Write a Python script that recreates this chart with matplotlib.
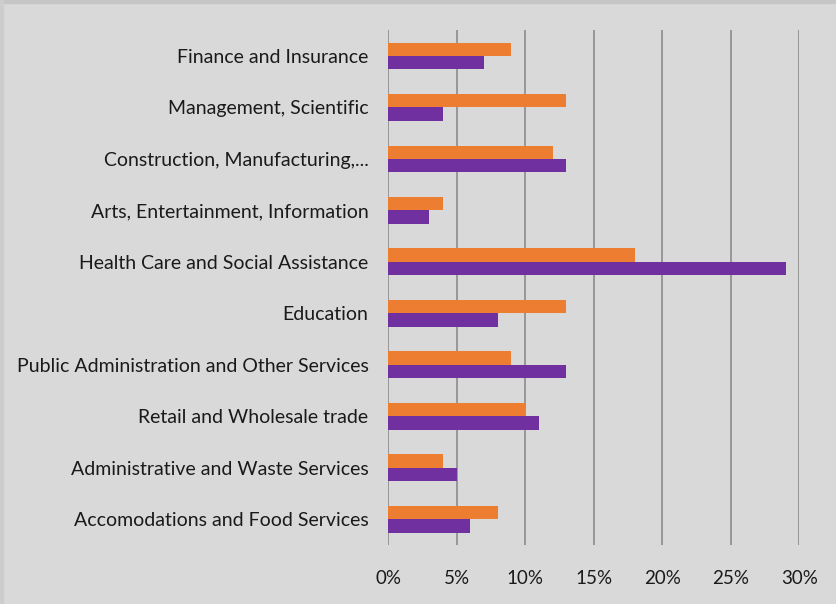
import matplotlib
matplotlib.use('Agg')
import matplotlib.pyplot as plt
import numpy as np
from matplotlib.patches import Rectangle
from matplotlib.ticker import FuncFormatter

# industries, top to bottom
industries = [
    "Finance and Insurance",
    "Management, Scientific",
    "Construction, Manufacturing,...",
    "Arts, Entertainment, Information",
    "Health Care and Social Assistance",
    "Education",
    "Public Administration and Other Services",
    "Retail and Wholesale trade",
    "Administrative and Waste Services",
    "Accomodations and Food Services",
]
orange_vals = [9, 13, 12, 4, 18, 13, 9, 10, 4, 8]
purple_vals = [7, 4, 13, 3, 29, 8, 13, 11, 5, 6]
x_ticks = [0, 5, 10, 15, 20, 25, 30]

plt.rcParams['font.family'] = ['Lato', 'DejaVu Sans']

bg = '#d9d9d9'
fig = plt.figure(figsize=(8.37, 6.04), dpi=100, facecolor=bg)
ax = fig.add_axes([0.4636, 0.0977, 0.955 - 0.4636, 0.950 - 0.0977])
ax.set_facecolor(bg)

y = np.arange(len(industries))
h = 0.26
ax.barh(y - h / 2, orange_vals, height=h, color='#ED7D31', zorder=3)
ax.barh(y + h / 2, purple_vals, height=h, color='#7030A0', zorder=3)

ax.set_xlim(0, 30)
ax.set_ylim(len(industries) - 0.5, -0.5)
ax.set_yticks(y)
ax.set_yticklabels(industries, fontsize=14, color='#1a1a1a')
ax.set_xticks(x_ticks)
ax.xaxis.set_major_formatter(FuncFormatter(lambda v, p: f"{int(v)}%"))
ax.tick_params(axis='x', labelsize=13.5, colors='#1a1a1a', length=0, pad=18)
ax.tick_params(axis='y', length=0, pad=14)
ax.grid(axis='x', color='#8c8c8c', linewidth=1.2, zorder=0)
for s in ax.spines.values():
    s.set_visible(False)

# thin darker edges at top and left of the screenshot
fig.patches.append(Rectangle((0, 1 - 3 / 604), 1, 3 / 604, transform=fig.transFigure,
                             color='#c6c6c6', zorder=0))
fig.patches.append(Rectangle((0, 0), 3 / 837, 1, transform=fig.transFigure,
                             color='#cdcdcd', zorder=0))

fig.savefig('out.png', dpi=100, facecolor=bg)
